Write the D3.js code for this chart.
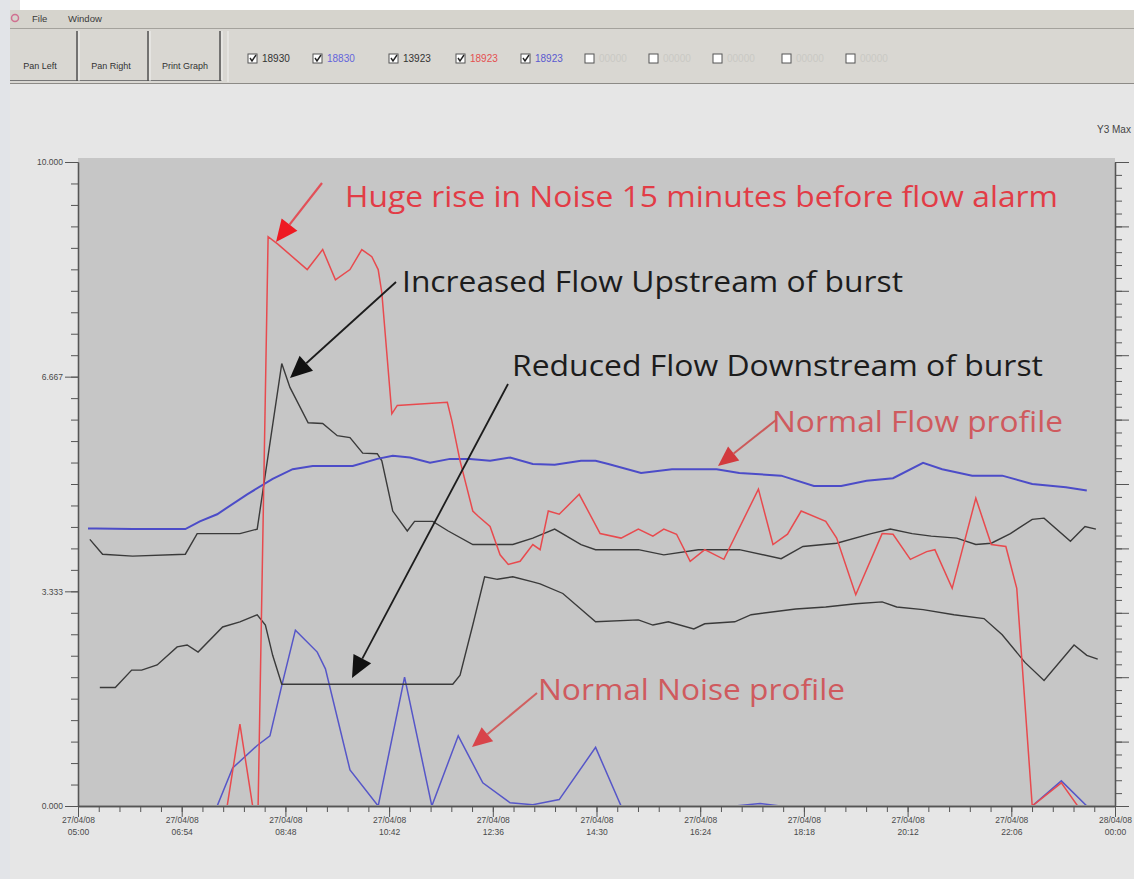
<!DOCTYPE html>
<html><head><meta charset="utf-8">
<script src="https://cdn.jsdelivr.net/npm/d3@7"></script>
<style>body{margin:0;background:#e6e6e6;} svg{display:block;}</style>
</head><body>
<svg id="chart" width="1134" height="879"></svg>
<script>
// ---------------- DATA ----------------
// Noise logger (red), burst site
const redNoise = [
 ["05:00",0],["07:44",0],["07:58",1.27],["08:12",0],["08:18",0],["08:29",8.84],["08:40",8.72],
 ["09:12",8.33],["09:29",8.64],["09:43",8.17],["09:59",8.33],["10:12",8.64],["10:23",8.53],
 ["10:30",8.33],["10:34",7.97],["10:45",6.09],["10:51",6.22],["11:46",6.27],["11:51",5.98],
 ["12:00",5.36],["12:14",4.58],["12:20",4.5],["12:33",4.34],["12:44",3.9],["12:53",3.75],
 ["13:06",3.8],["13:20",4.06],["13:28",3.98],["13:37",4.58],["13:49",4.53],["14:11",4.84],
 ["14:34",4.23],["14:57",4.16],["15:16",4.30],["15:32",4.19],["15:44",4.30],["15:58",4.22],
 ["16:13",3.80],["16:29",3.98],["16:50",3.83],["17:28",4.92],["17:44",4.06],["18:00",4.22],
 ["18:15",4.58],["18:42",4.42],["18:54",4.16],["19:15",3.28],["19:44",4.23],["19:56",4.22],
 ["20:15",3.83],["20:33",3.95],["20:42",3.98],["21:01",3.38],["21:27",4.78],["21:44",4.06],
 ["22:00",4.03],["22:12",3.38],["22:29",0],["23:01",0.36],["23:19",0],["24:00",0]
];
// Normal flow profile (blue)
const blueFlow = [
 ["05:11",4.31],["05:20",4.31],["06:00",4.30],["06:58",4.30],["07:14",4.42],["07:33",4.53],
 ["08:06",4.84],["08:34",5.08],["08:56",5.23],["09:18",5.28],["10:02",5.28],["10:29",5.39],
 ["10:46",5.44],["11:05",5.41],["11:27",5.33],["11:49",5.39],["12:11",5.39],["12:33",5.36],
 ["12:55",5.41],["13:20",5.31],["13:44",5.30],["14:13",5.36],["14:29",5.36],["14:43",5.31],
 ["15:19",5.17],["15:53",5.23],["16:42",5.23],["17:07",5.17],["17:53",5.13],["18:29",4.97],
 ["18:59",4.97],["19:27",5.05],["19:56",5.09],["20:29",5.33],["20:50",5.23],["21:23",5.13],
 ["21:56",5.13],["22:29",5.00],["23:06",4.95],["23:29",4.90]
];
// Flow upstream of burst (black)
const upstreamFlow = [
 ["05:13",4.14],["05:27",3.91],["06:00",3.88],["06:58",3.91],["07:11",4.23],["07:58",4.23],
 ["08:17",4.30],["08:44",6.87],["08:53",6.50],["09:13",5.95],["09:29",5.94],["09:45",5.75],
 ["09:59",5.72],["10:13",5.48],["10:29",5.47],["10:34",5.36],["10:46",4.58],["11:02",4.27],
 ["11:10",4.42],["11:30",4.42],["11:47",4.27],["12:14",4.06],["12:58",4.06],["13:20",4.16],
 ["13:44",4.30],["14:13",4.06],["14:29",3.98],["15:16",3.98],["15:44",3.90],["16:22",3.98],
 ["17:07",3.98],["17:53",3.84],["18:17",4.03],["18:54",4.08],["19:32",4.23],["19:53",4.30],
 ["20:17",4.23],["20:38",4.19],["21:06",4.16],["21:27",4.06],["21:44",4.08],["22:05",4.23],
 ["22:29",4.45],["22:42",4.47],["23:11",4.11],["23:27",4.34],["23:39",4.30]
];
// Flow downstream of burst (black)
const downstreamFlow = [
 ["05:24",1.84],["05:41",1.84],["05:59",2.11],["06:10",2.11],["06:27",2.19],["06:49",2.47],
 ["07:00",2.50],["07:12",2.39],["07:39",2.78],["07:58",2.86],["08:17",2.97],["08:26",2.81],
 ["08:34",2.34],["08:44",1.89],["11:52",1.89],["12:00",2.03],["12:14",2.81],["12:27",3.56],
 ["12:41",3.52],["12:58",3.56],["13:20",3.48],["13:28",3.45],["13:53",3.30],["14:29",2.86],
 ["15:16",2.89],["15:32",2.81],["15:49",2.86],["16:17",2.75],["16:29",2.83],["17:02",2.86],
 ["17:20",2.97],["18:09",3.06],["18:42",3.09],["19:15",3.14],["19:44",3.17],["20:00",3.09],
 ["20:29",3.05],["21:03",2.97],["21:36",2.91],["21:56",2.66],["22:21",2.23],["22:42",1.95],
 ["23:15",2.50],["23:29",2.34],["23:41",2.28]
];
// Normal noise profile (blue)
const blueNoise = [
 ["05:00",0],["07:33",0],["07:50",0.59],["08:17",0.94],["08:31",1.09],["08:44",1.87],
 ["08:59",2.73],["09:23",2.39],["09:32",2.13],["09:59",0.56],["10:30",0],["10:59",2.00],
 ["11:29",0],["11:58",1.09],["12:25",0.36],["12:55",0.05],["13:20",0.02],["13:49",0.10],
 ["14:29",0.91],["14:57",0],["17:02",0],["17:30",0.04],["17:52",0],["22:29",0],
 ["23:01",0.39],["23:29",0],["24:00",0]
];
const yMajorTicks = [0, 10/3, 20/3, 10];
const xStart = "05:00", xEnd = "24:00", xMajorStepMin = 114, xMajorCount = 11;
const menuItems = ["File", "Window"];
const buttonLabels = ["Pan Left", "Pan Right", "Print Graph"];
const legendLabels = ["18930","18830","13923","18923","18923","00000","00000","00000","00000","00000"];
const legendChecked = [true,true,true,true,true,false,false,false,false,false];
const annotationTexts = [
 "Huge rise in Noise 15 minutes before flow alarm",
 "Increased Flow Upstream of burst",
 "Reduced Flow Downstream of burst",
 "Normal Flow profile",
 "Normal Noise profile"
];

// ---------------- DRAWING ----------------
const W = 1134, H = 879;
const svg = d3.select("#chart");
const T = s => { const [h, m] = s.split(":").map(Number); return new Date(2008, 3, 27, h, m); };
const uiFont = "'Liberation Sans', Arial, sans-serif";

svg.append("rect").attr("width", W).attr("height", H).attr("fill", "#e6e6e6");
svg.append("rect").attr("x", 20).attr("y", 0).attr("width", W - 20).attr("height", 10).attr("fill", "#ffffff");
svg.append("rect").attr("x", 0).attr("y", 0).attr("width", 10).attr("height", H).attr("fill", "#e2e4e8");

// menu bar
svg.append("rect").attr("x", 10).attr("y", 10).attr("width", W - 10).attr("height", 18).attr("fill", "#d6d4cd");
svg.append("line").attr("x1", 10).attr("x2", W).attr("y1", 28.5).attr("y2", 28.5).attr("stroke", "#a4a29c");
svg.append("circle").attr("cx", 15).attr("cy", 18).attr("r", 3.5).attr("fill", "none").attr("stroke", "#d07090").attr("stroke-width", 1.5);
svg.selectAll("text.menu").data(menuItems).join("text").attr("class", "menu")
  .attr("x", (d, i) => [32, 68][i]).attr("y", 22).attr("font-family", uiFont).attr("font-size", 9.5)
  .attr("fill", "#3a3a3a").text(d => d);

// toolbar
svg.append("rect").attr("x", 10).attr("y", 29).attr("width", W - 10).attr("height", 55).attr("fill", "#d9d7d2");
svg.append("line").attr("x1", 10).attr("x2", W).attr("y1", 83.5).attr("y2", 83.5).attr("stroke", "#8c8a86");
svg.append("line").attr("x1", 10).attr("x2", 222).attr("y1", 80.5).attr("y2", 80.5).attr("stroke", "#777");
[77, 148, 220].forEach(xx => {
  svg.append("line").attr("x1", xx).attr("x2", xx).attr("y1", 31).attr("y2", 81).attr("stroke", "#505050").attr("stroke-width", 1.5);
  svg.append("line").attr("x1", xx + 2).attr("x2", xx + 2).attr("y1", 31).attr("y2", 81).attr("stroke", "#f2f2f0").attr("stroke-width", 1);
});
svg.selectAll("text.btn").data(buttonLabels).join("text").attr("class", "btn")
  .attr("x", (d, i) => [40, 111, 185][i]).attr("y", 69).attr("text-anchor", "middle")
  .attr("font-family", uiFont).attr("font-size", 9).attr("fill", "#333").text(d => d);
svg.append("line").attr("x1", 228).attr("x2", 228).attr("y1", 31).attr("y2", 82).attr("stroke", "#f0f0ee");

// legend check boxes
const legendBoxX = [248, 313, 389, 456, 521, 585, 649, 713, 782, 846];
const legendColors = ["#333", "#6464dc", "#333", "#e45050", "#5a5ad0", "#c9c9c4", "#c9c9c4", "#c9c9c4", "#c9c9c4", "#c9c9c4"];
legendLabels.forEach((lab, i) => {
  const bx = legendBoxX[i];
  svg.append("rect").attr("x", bx).attr("y", 54).attr("width", 9).attr("height", 9)
    .attr("fill", "#fff").attr("stroke", "#555").attr("stroke-width", 1);
  if (legendChecked[i]) {
    svg.append("path").attr("d", `M${bx + 2},${58} L${bx + 4},${61} L${bx + 8},${55}`)
      .attr("fill", "none").attr("stroke", "#222").attr("stroke-width", 1.4);
  }
  svg.append("text").attr("x", bx + 14).attr("y", 62).attr("font-family", uiFont).attr("font-size", 10)
    .attr("fill", legendColors[i]).text(lab);
});

// chart
const plot = { l: 78, r: 1115, t: 158, b: 806 };
const x = d3.scaleTime().domain([T(xStart), T(xEnd)]).range([plot.l, plot.r]);
const y = d3.scaleLinear().domain([0, 10]).range([plot.b, plot.t + 4]);

svg.append("rect").attr("x", plot.l).attr("y", plot.t).attr("width", plot.r - plot.l).attr("height", plot.b - plot.t).attr("fill", "#c6c6c6");
svg.append("text").attr("x", 1097).attr("y", 133).attr("font-family", uiFont).attr("font-size", 10).attr("fill", "#444").text("Y3 Max");

svg.append("clipPath").attr("id", "clip").append("rect")
  .attr("x", plot.l).attr("y", plot.t).attr("width", plot.r - plot.l).attr("height", plot.b - plot.t - 1);
const g = svg.append("g").attr("clip-path", "url(#clip)");
const line = d3.line().x(d => x(T(d[0]))).y(d => y(d[1]));

g.append("path").datum(blueNoise).attr("d", line).attr("fill", "none").attr("stroke", "#5656c8").attr("stroke-width", 1.5);
g.append("path").datum(downstreamFlow).attr("d", line).attr("fill", "none").attr("stroke", "#3a3a3a").attr("stroke-width", 1.4);
g.append("path").datum(upstreamFlow).attr("d", line).attr("fill", "none").attr("stroke", "#3a3a3a").attr("stroke-width", 1.4);
g.append("path").datum(blueFlow).attr("d", line).attr("fill", "none").attr("stroke", "#4c4cc8").attr("stroke-width", 2);
g.append("path").datum(redNoise).attr("d", line).attr("fill", "none").attr("stroke", "#e84a4e").attr("stroke-width", 1.5);

// axes
const majorDates = d3.range(xMajorCount).map(i => new Date(T(xStart).getTime() + i * xMajorStepMin * 60000));
const minorDates = d3.range((xMajorCount - 1) * 5 + 1).map(i => new Date(T(xStart).getTime() + i * xMajorStepMin / 5 * 60000));
const axColor = "#555";
function styleAxis(sel) {
  sel.selectAll("path.domain").attr("stroke", axColor).attr("stroke-width", 1.3);
  sel.selectAll(".tick line").attr("stroke", axColor);
  sel.selectAll(".tick text").attr("fill", "#4a4a4a").attr("font-family", uiFont).attr("font-size", 8.5);
}
svg.append("g").attr("transform", `translate(0,${plot.b})`)
  .call(d3.axisBottom(x).tickValues(minorDates).tickSize(6).tickSizeOuter(0).tickFormat("")).call(styleAxis);
const xMaj = svg.append("g").attr("transform", `translate(0,${plot.b})`)
  .call(d3.axisBottom(x).tickValues(majorDates).tickSize(11).tickSizeOuter(0).tickFormat("")).call(styleAxis);
const fDate = d3.timeFormat("%d/%m/%y"), fTime = d3.timeFormat("%H:%M");
xMaj.selectAll(".tick").each(function (d) {
  const t = d3.select(this).append("text").attr("fill", "#4a4a4a").attr("font-family", uiFont)
    .attr("font-size", 8.5).attr("text-anchor", "middle");
  t.append("tspan").attr("x", 0).attr("y", 17).text(fDate(d));
  t.append("tspan").attr("x", 0).attr("y", 29).text(fTime(d));
});

svg.append("g").attr("transform", `translate(${plot.l},0)`)
  .call(d3.axisLeft(y).tickValues(d3.range(31).map(i => i / 3)).tickSize(7).tickSizeOuter(0).tickFormat("")).call(styleAxis);
svg.append("g").attr("transform", `translate(${plot.l},0)`)
  .call(d3.axisLeft(y).tickValues(yMajorTicks).tickSize(13).tickSizeOuter(0).tickFormat(d3.format(".3f")).tickPadding(2)).call(styleAxis);

svg.append("g").attr("transform", `translate(${plot.r},0)`)
  .call(d3.axisRight(y).tickValues(d3.range(51).map(i => i / 5)).tickSize(7).tickSizeOuter(0).tickFormat("")).call(styleAxis);
svg.append("g").attr("transform", `translate(${plot.r},0)`)
  .call(d3.axisRight(y).tickValues(d3.range(11)).tickSize(14).tickSizeOuter(0).tickFormat("")).call(styleAxis);

// annotations
const annFont = "'Open Sans', 'Noto Sans', sans-serif";
const annPos = [
  { x: 345, y: 207, w: 713, c: "#e23c46" },
  { x: 402, y: 292, w: 501, c: "#1c1c1c" },
  { x: 512, y: 376, w: 531, c: "#1c1c1c" },
  { x: 772, y: 432, w: 291, c: "#cf5a5e" },
  { x: 538, y: 700, w: 307, c: "#cf5a5e" }
];
annotationTexts.forEach((txt, i) => {
  const p = annPos[i];
  svg.append("text").attr("x", p.x).attr("y", p.y).attr("font-family", annFont).attr("font-size", 29)
    .attr("fill", p.c).attr("textLength", p.w).attr("lengthAdjust", "spacingAndGlyphs").text(txt);
});

function arrow(x1, y1, x2, y2, lineColor, headColor, len, half, sw) {
  const a = Math.atan2(y2 - y1, x2 - x1);
  const bx = x2 - len * Math.cos(a), by = y2 - len * Math.sin(a);
  svg.append("line").attr("x1", x1).attr("y1", y1).attr("x2", bx).attr("y2", by)
    .attr("stroke", lineColor).attr("stroke-width", sw);
  const px = -Math.sin(a) * half, py = Math.cos(a) * half;
  svg.append("path").attr("d", `M${x2},${y2} L${bx + px},${by + py} L${bx - px},${by - py} Z`).attr("fill", headColor);
}
arrow(322, 183, 276, 242, "#e25058", "#ee1a22", 22, 10, 2.2);
arrow(396, 282, 290, 378, "#1c1c1c", "#111", 22, 10, 1.8);
arrow(508, 384, 352, 678, "#1c1c1c", "#111", 22, 10, 1.8);
arrow(776, 420, 718, 466, "#cc5a5a", "#d23a3e", 20, 9, 2);
arrow(537, 693, 472, 747, "#d06060", "#d8444a", 20, 9, 2);
</script>
</body></html>
